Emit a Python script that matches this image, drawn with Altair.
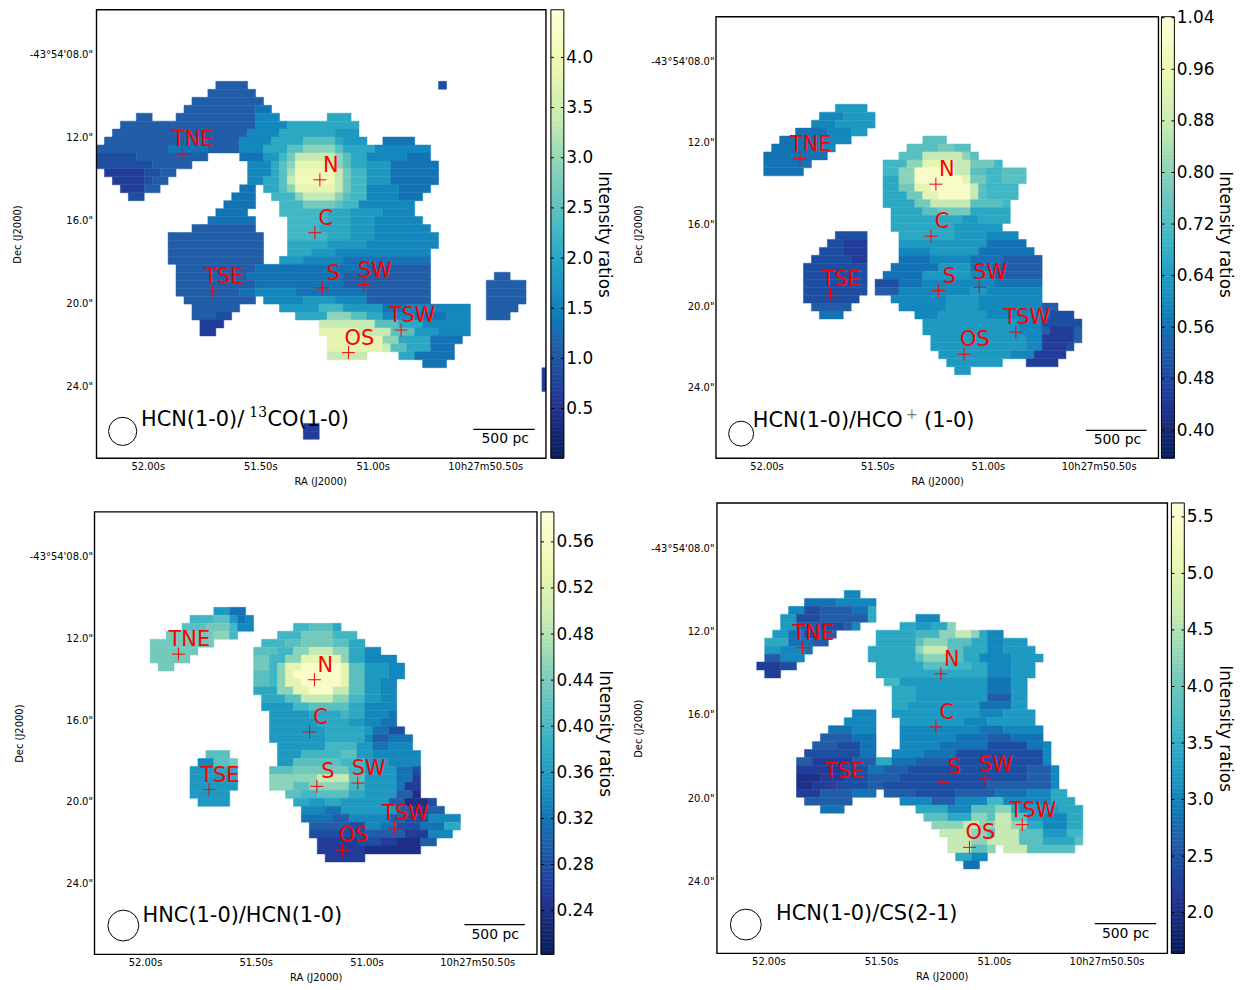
import altair as alt
import pandas as pd

RA_DOMAIN = [52.228, 50.23]
DEC_DOMAIN = [5.83, 27.45]
YLGNBU_R = ["#081d58", "#253494", "#225ea8", "#1d91c0", "#41b6c4", "#7fcdbb", "#c7e9b4", "#edf8b1", "#ffffd9"]

REGIONS = ["TNE", "N", "C", "S", "SW", "TSE", "TSW", "OS"]
REGION_RA = [51.849, 51.235, 51.257, 51.224, 51.039, 51.711, 50.874, 51.108]
REGION_DEC = [12.78, 14.03, 16.58, 19.24, 19.08, 19.40, 21.27, 22.36]

X_TICKS = [52.0, 51.5, 51.0, 50.5]
Y_TICKS = [8, 12, 16, 20, 24]

# Each row: "start level:end level:end ...; start level:end ..."  (map cells)
MAP_1 = {
 9: "15 2:18; 43 1.5:43", 10: "14 2:19", 11: "12 2:20", 12: "11 2:19 2.5:21",
 13: "5 2:6; 10 2:19 3:22; 29 4:31", 14: "3 2:19 3:23 4:32", 15: "2 2:18 3:22 4:29 3.5:32",
 16: "1 2:10 2.5:13 2:17 3:21 4:25 5:29 4:30 3.5:33; 36 2.5:39",
 17: "0 2:8 2.5:13 2:17 3:20 4:23 5:25 6:29 5:30 4:34; 35 3:41",
 18: "0 1.5:4 2:13; 18 2.5:20 3.5:22 4.5:23 5.5:24 7:29 6:30 5:31 4:33 3:38 2.5:41",
 19: "0 1.5:6 2:11; 19 3:21 4:22 5:23 6:24 8:28 7:29 6:30 5:31 4:33 3.5:36 2.5:42",
 20: "1 1:5 1.5:7 2:9; 19 3:21 4:22 5:23 6.5:24 8.5:29 7:30 5.5:31 4.5:33 3.5:36 2.5:42",
 21: "2 1:5 1.5:6 2:8; 19 3:20 4:22 5:23 7:24 8.5:29 7:30 5.5:31 4.5:33 3.5:36 2.5:42",
 22: "3 1:5 2:7; 18 2.5:19; 21 4:22 5:23 6:24 8:29 7:30 5.5:31 4.5:33 3:37 2.5:41",
 23: "4 1.5:5; 17 2.5:19; 22 4.5:24 6:25 7:29 6:30 5:31 4.5:33 3:37 2.5:40",
 24: "16 2.5:19; 23 4.5:25 5.5:29 5:30 4.5:32 3:39",
 25: "15 2.5:18; 23 4.5:28 4:31 3.5:35 3:39",
 26: "14 2.5:19; 24 4.5:28 4:31 3.5:34 3:40",
 27: "12 2:19; 24 4.5:27 4:31 3.5:34 3:41",
 28: "9 2:20; 24 4.5:28 4:31 3.5:34 3:42",
 29: "9 2:20; 24 4:28 3.5:33 3:42",
 30: "9 2:20; 24 4:26 3.5:29 3:41",
 31: "9 2:20; 23 3.5:25 3:30 2.5:41",
 32: "10 2:19 2.5:33 2:41",
 33: "10 2:18 2.5:30 2:41; 50 2:51",
 34: "10 2:19 2.5:30 2:41; 49 2:53",
 35: "10 2:17 2.5:19 3:24 2.5:33 2:41; 49 2:53",
 36: "11 2:19; 21 3:25 3.5:29 3:33 2:41; 49 2:53",
 37: "12 2:17; 23 3.5:27 4.5:30 3.5:35 2.5:38 3:46; 49 2:52",
 38: "12 2:14 1.5:16; 25 4:28 6:31 5:33 4:35 3:39 2.5:43 3:46; 49 2:51",
 39: "13 1:15; 28 7:34 5:37 4:40 3:46",
 40: "13 1:14; 28 8:32 7:36 5:39 3.5:42 3:46",
 41: "29 8:35 6:37 4:41 2.5:45",
 42: "29 8:35 7:36 5:38 4:41 2.5:44",
 43: "29 7:33; 38 4:39 2.5:44",
 44: "41 2.5:43", 45: "56 1:56", 46: "56 1:56", 47: "56 1:56",
 52: "26 1:27", 53: "26 1:27",
}
MAP_2 = {
 11: "15 3.5:18", 12: "13 3:15 3.5:19", 13: "12 3:14 3.5:19", 14: "10 2.5:13 3:16 3.5:18",
 15: "8 2.5:12 3:16; 26 5:28", 16: "7 2.5:12 3:14; 24 5:27 5.5:29 5:31",
 17: "6 2.5:13; 23 5:25 7:30 6:31 5:32",
 18: "6 2.5:11; 21 4.5:23 6:25 8:29 7:31 5.5:34 4.5:35",
 19: "6 2.5:10; 21 4.5:22 6:24 9:29 7:31 5:33 4.5:35 5:38",
 20: "21 4:22 6:24 9:30 8:31 5.5:33 4.5:35 5:38",
 21: "21 4:22 5.5:24 8:26 9:31 7:32 5:33 4.5:37",
 22: "21 4:23 5.5:25 8:27 9:31 7:32 5:33 4.5:37",
 23: "21 4:24 5.5:26 7:31 5:35 4.5:36",
 24: "22 4:25 5:27 5.5:31 4:36",
 25: "22 4:30 3.5:32 4:36",
 26: "22 4:29 3.5:35",
 27: "15 1.5:18; 23 4:29 3.5:33 3:37",
 28: "14 1.5:15 1:18; 23 3.5:33 2.5:38",
 29: "13 1.5:15 1:18; 23 3:26 3.5:32 2.5:39",
 30: "12 1.5:16 1:18; 23 2.5:26 3:31 2.5:35 2:40",
 31: "11 1.5:18; 22 2.5:27 3.5:31 2.5:34 2:40",
 32: "11 1.5:18; 21 2.5:25 3.5:31 3:34 2:40",
 33: "11 1.5:18; 20 1.5:22 2.5:25 3:34 2.5:40",
 34: "11 1.5:18; 20 2:22 3:31 3.5:33 3:40",
 35: "11 1.5:17; 22 3:28 3.5:32 3:40",
 36: "12 2:16; 23 3:28 3.5:32 3:40 2:42",
 37: "13 2.5:15; 25 3:27 3.5:33 3:40 2.5:41 1.5:44",
 38: "26 3.5:37 3:40 1.5:45",
 39: "26 3.5:37 3:40 2:41 1:44 2:45",
 40: "27 3.5:38 3:40 1:44 2:45",
 41: "27 3.5:38 3:40 1:43 1.5:44",
 42: "28 3.5:36 3:39 1:43",
 43: "29 3.5:35; 39 1:42",
 44: "30 3.5:31",
}
MAP_3 = {
 12: "15 3.5:16 2.5:18", 13: "12 4.5:14 5:16 3.5:17 2.5:18 3:19",
 14: "11 5:13 5.5:16 4.5:17 3:19; 25 4.5:26 5:29 4:30",
 15: "9 5.5:14 6:16 4.5:17; 23 4.5:25 5.5:29 4.5:32",
 16: "7 5.5:14; 21 4.5:23 5:25 5.5:29 5:31 4:33",
 17: "7 5.5:12; 20 5:22 4.5:24 6:26 7:29 6:31 4:33 3:35",
 18: "7 5.5:11; 20 5.5:21 4.5:23 6:25 8:30 6:31 4:33 3:37",
 19: "8 5.5:9; 20 5.5:21 4.5:22 6:23 8:25 9:30 8:31 5:33 3.5:36 3:38",
 20: "20 5:21 4.5:22 6:23 8:24 9:30 8:31 5:33 3.5:36 3:38",
 21: "20 5:21 4.5:22 6:23 8:25 9:30 8:31 5:33 3.5:35 3:37",
 22: "20 4:22 6:24 8:26 9:29 7:31 5:33 3.5:35 3:37",
 23: "21 4:23 5:25 7:29 6:31 4.5:33 3.5:35 3:37",
 24: "21 3.5:24 4.5:26 5:31 4:33 3:37",
 25: "22 3.5:26 4:30 4.5:31 4:33 3:36 2.5:37",
 26: "22 3.5:27 4:31 3.5:33 3:35 2.5:37",
 27: "22 3.5:28 4:33 3.5:34 2.5:36 1.5:38",
 28: "22 3.5:28 4:33 3:34 2:36 2.5:39",
 29: "23 3.5:28 4.5:32 3.5:34 2.5:36 3:39",
 30: "14 5:16; 23 3.5:25 4.5:30 5:32 3.5:34 3:40",
 31: "13 3:14 5:16 5.5:17; 23 3.5:24 5:30 4.5:33 3.5:36 3:40",
 32: "12 3.5:14 4:17; 22 5:24 5.5:31 4.5:33 3.5:37 2.5:39 1.5:40",
 33: "12 3.5:16 4:17; 22 6:27 7:31 5:33 3.5:37 2.5:39 1:40",
 34: "12 3.5:17; 22 6:24 5:26 6:31 4.5:33 3.5:37 2.5:38 1:40",
 35: "12 3.5:16; 24 5:25 4.5:27 5:31 4:33 3.5:37 2:39 0.5:40",
 36: "13 3.5:16; 25 4:26 3.5:28 4:30 3.5:36 2:38 0.5:41 1.5:42",
 37: "26 3:28 2.5:30 3.5:37 2:39 1:41 2:43",
 38: "26 2.5:29 2:31 3:36 2:38 1.5:41 3:45",
 39: "27 2:31 1.5:33 3:35 2.5:37 1.5:40 2.5:43 4:45",
 40: "27 1.5:33 2:38 1:41 3:44",
 41: "28 1:32 1.5:35 1:37 0.5:40 2:42",
 42: "28 1:33 0.5:40",
 43: "29 1:33",
}
MAP_4 = {
 11: "16 3:17", 12: "11 2.5:14 3:19", 13: "9 3:10 1.5:12 2:16 2.5:18 4:19",
 14: "8 3.5:9 1.5:12 2:18 4:19; 25 3:27",
 15: "8 3.5:9 2:12 1.5:15 2:16 3:17; 23 4:24 3.5:26 4:28 6:29",
 16: "7 3.5:8 2.5:10 1.5:12 2:14; 20 4:24 4.5:27 6:29 7:31 6:32 4:33 3:35",
 17: "6 4:8 2.5:11 2:13; 20 4:24 5:25 6:28 5:31 4:33 3:35 3.5:38",
 18: "6 3.5:7 3:10 2.5:11; 19 4:24 6:25 7:28 5:30 4:33 3:35 3.5:39",
 19: "6 2:7 3:10; 19 4:24 5:25 6:28 5:30 4:32 3:36 3.5:40",
 20: "5 1:7 1.5:9; 20 4:25 5:28 4.5:31 4:33 3:36 3.5:39",
 21: "6 1:7; 20 4:33 3:36 3.5:39",
 22: "21 4.5:22 3.5:33 2.5:36 3.5:38",
 23: "22 4:24 3.5:33 2.5:36 3.5:38",
 24: "22 4:24 3.5:33 2:36 3.5:38",
 25: "22 4:23 3.5:32 2.5:36 3.5:38",
 26: "17 3:19; 22 3.5:32 3:35 3.5:39",
 27: "16 3:19; 23 3.5:30 3:33 3.5:39",
 28: "14 2.5:16 3:19; 23 3:32 2.5:35 3:40",
 29: "13 2:16 2.5:19; 23 3:29 2.5:33 2:36 2.5:40",
 30: "12 2:14 1.5:17 2.5:19; 23 3:27 2.5:33 1.5:38 2.5:40 3:41",
 31: "11 1.5:17 2.5:19; 22 3:25 2.5:29 1.5:40 3:41",
 32: "10 2:11 1:16 2:19; 20 4:21 2.5:24 2:29 1.5:40 3:41",
 33: "10 1:15 1.5:18 2.5:20 2:23 1.5:38 2:41 3:42",
 34: "10 0.5:12 1:15 1.5:18 2:22 1.5:38 2:41 3:42",
 35: "10 0.5:11 1:14 1.5:18 2:20 1.5:33 2:41 3:42",
 36: "10 1:12 2:16 2.5:19; 21 2:24 1.5:29 2:34 2.5:38 3:41 4:43",
 37: "11 2:16; 23 3:26 2:29 3:33 4.5:35 3:41 4:44",
 38: "13 2.5:15; 25 4:28 3:31 5:34 6:36 4:37 3:38 3.5:42 4:45",
 39: "26 5:28 4:31 6:33 5:34 7:36 5:38 3.5:40 3:43 4:45",
 40: "27 6:30 7:32 6:34 7:36 6:38 4:40 3:43 4:45",
 41: "28 7:31 6:33 5:34 7:37 5:40 3.5:43 4.5:45",
 42: "29 7:31 6:33 7:37 5:40 4:44 5:45",
 43: "29 7:31 5:33 6:34; 36 7:38 5:44",
 44: "30 4:31 3:33",
 45: "31 2.5:32",
}

TICKS_1 = [0.5, 1.0, 1.5, 2.0, 2.5, 3.0, 3.5, 4.0]
TICKS_2 = [0.40, 0.48, 0.56, 0.64, 0.72, 0.80, 0.88, 0.96, 1.04]
TICKS_3 = [0.24, 0.28, 0.32, 0.36, 0.40, 0.44, 0.48, 0.52, 0.56]
TICKS_4 = [2.0, 2.5, 3.0, 3.5, 4.0, 4.5, 5.0, 5.5]

FONT = "DejaVu Sans"
SERIF = "DejaVu Serif"
CELL = 8


def cells(rows, w, h, vmin, vmax):
    out = []
    dx = (RA_DOMAIN[1] - RA_DOMAIN[0]) / w * CELL
    dy = (DEC_DOMAIN[1] - DEC_DOMAIN[0]) / h * CELL
    for j, txt in rows.items():
        for span in txt.split(";"):
            toks = span.split()
            start = int(toks[0])
            for tok in toks[1:]:
                lv, end = tok.split(":")
                end = int(end)
                out.append({
                    "x0": RA_DOMAIN[0] + start * dx, "x1": RA_DOMAIN[0] + (end + 1) * dx,
                    "y0": DEC_DOMAIN[0] + j * dy, "y1": DEC_DOMAIN[0] + (j + 1) * dy,
                    "v": vmin + (float(lv) + 0.5) / 10 * (vmax - vmin),
                })
                start = end + 1
    return pd.DataFrame(out)


ONE = pd.DataFrame({"a": [1]})


def panel(rows, w, h, vmin, vmax, label_pad, title_pad, beam, bar, texts, lp=0, tp=0):
    ra_px = (RA_DOMAIN[1] - RA_DOMAIN[0]) / w
    dec_px = (DEC_DOMAIN[1] - DEC_DOMAIN[0]) / h
    xs = alt.Scale(domain=[RA_DOMAIN[0] - lp * ra_px, RA_DOMAIN[1]], nice=False, zero=False)
    ys = alt.Scale(domain=[DEC_DOMAIN[1], DEC_DOMAIN[0] - tp * dec_px], nice=False, zero=False)
    color = alt.Scale(domain=[vmin, vmax], range=YLGNBU_R)
    df = cells(rows, w, h, vmin, vmax)
    base = alt.Chart(df).mark_rect(clip=True, strokeWidth=0.5).encode(
        x=alt.X("x0:Q", scale=xs, axis=alt.Axis(
            values=X_TICKS, title="RA (J2000)", grid=False, tickSize=0, domain=False, labelFontSize=10,
            titleFontSize=10, titleFontWeight="normal", labelPadding=3, titlePadding=5, labelOverlap=False,
            labelExpr="datum.value==50.5 ? '10h27m50.50s' : format(datum.value,'.2f')+'s'")),
        x2="x1:Q",
        y=alt.Y("y0:Q", scale=ys, axis=alt.Axis(
            values=Y_TICKS, title="Dec (J2000)", grid=False, tickSize=0, domain=False, labelFontSize=10,
            titleFontSize=10, titleFontWeight="normal", labelPadding=label_pad, titlePadding=title_pad, labelOverlap=False,
            labelExpr="datum.value==8 ? '-43°54\\'08.0\"' : format(datum.value,'.1f')+'\"'")),
        y2="y1:Q",
        color=alt.Color("v:Q", scale=color, legend=None),
        stroke=alt.Stroke("v:Q", scale=color, legend=None),
    )
    regs = pd.DataFrame({"ra": REGION_RA, "dec": REGION_DEC, "name": REGIONS})
    cross = alt.Chart(regs).mark_point(shape="M-1,0L1,0M0,-1L0,1", filled=False, stroke="#ff0000", strokeWidth=1, size=170, opacity=1).encode(
        x=alt.X("ra:Q", scale=xs), y=alt.Y("dec:Q", scale=ys))
    lab = alt.Chart(regs).mark_text(font=FONT, fontSize=21, color="#ff0000", dx=11, dy=-14).encode(
        x=alt.X("ra:Q", scale=xs), y=alt.Y("dec:Q", scale=ys), text="name:N")
    bx, by, bd = beam
    beam_mark = alt.Chart(ONE).mark_point(shape="circle", filled=False, stroke="black", strokeWidth=1, size=3.1416 * (bd / 2) ** 2, opacity=1).encode(
        x=alt.value(bx + lp), y=alt.value(by + tp))
    sx0, sx1, sy, tx, ty = bar
    rule = alt.Chart(ONE).mark_rule(color="black", strokeWidth=1.3).encode(
        x=alt.value(sx0 + lp), x2=alt.value(sx1 + lp), y=alt.value(sy + tp))
    pc = alt.Chart(ONE).mark_text(font=FONT, fontSize=14, color="black", text="500 pc").encode(
        x=alt.value(tx + lp), y=alt.value(ty + tp))
    frame = alt.Chart(ONE).mark_rect(fillOpacity=0, stroke="black", strokeWidth=1.4).encode(
        x=alt.value(lp), x2=alt.value(lp + w), y=alt.value(tp), y2=alt.value(tp + h))
    layers = [base, cross, lab, beam_mark, rule, pc, frame]
    for t in texts:
        layers.append(alt.Chart(ONE).mark_text(
            font=t.get("font", FONT), fontSize=t.get("size", 21), color=t.get("color", "black"),
            align="left", baseline="middle", text=t["t"]).encode(x=alt.value(t["x"] + lp), y=alt.value(t["y"] + tp)))
    return alt.layer(*layers).properties(width=w + lp, height=h + tp)


def colorbar(ticks, fmt, h, vmin, vmax, width=13, tp=0):
    n = 112
    step = (vmax - vmin) / n
    bar = pd.DataFrame({"a": [vmin + i * step for i in range(n)], "b": [vmin + (i + 1) * step for i in range(n)]})
    bar["c"] = (bar.a + bar.b) / 2
    color = alt.Scale(domain=[vmin, vmax], range=YLGNBU_R)
    ys = alt.Scale(domain=[vmin, vmax + tp * (vmax - vmin) / h], nice=False, zero=False)
    rect = alt.Chart(bar).mark_rect(strokeWidth=0.5).encode(
        x=alt.value(0), x2=alt.value(width),
        y=alt.Y("a:Q", scale=ys, axis=alt.Axis(
            orient="right", values=ticks, format=fmt, title="Intensity ratios", grid=False, domain=False, tickSize=0,
            labelFontSize=17, titleFontSize=17, titleFontWeight="normal", labelPadding=2, titlePadding=2,
            labelOverlap=False)),
        y2="b:Q",
        color=alt.Color("c:Q", scale=color, legend=None),
        stroke=alt.Stroke("c:Q", scale=color, legend=None),
    )
    tk = pd.DataFrame({"t": ticks})
    t1 = alt.Chart(tk).mark_rule(color="black", strokeWidth=1).encode(
        x=alt.value(0), x2=alt.value(3), y=alt.Y("t:Q", scale=ys))
    t2 = alt.Chart(tk).mark_rule(color="black", strokeWidth=1).encode(
        x=alt.value(width - 3), x2=alt.value(width), y=alt.Y("t:Q", scale=ys))
    frame = alt.Chart(ONE).mark_rect(fillOpacity=0, stroke="black", strokeWidth=1).encode(
        x=alt.value(0), x2=alt.value(width), y=alt.value(tp), y2=alt.value(tp + h))
    return alt.layer(rect, t1, t2, frame).properties(width=width, height=h + tp)


p1 = panel(MAP_1, 452, 451, 0.005, 4.475, 2, 7, (26.3, 424, 32), (379, 440.7, 422, 411, 432), [
    {"t": "HCN(1-0)/", "x": 44.7, "y": 412.7},
    {"t": "13", "x": 153.7, "y": 406, "size": 14, "font": SERIF},
    {"t": "CO(1-0)", "x": 172, "y": 412.7},
], lp=2)
p2 = panel(MAP_2, 445, 444, 0.357, 1.0415, 2, 7, (25.3, 419.3, 28.3), (372, 433, 416, 403.7, 426), [
    {"t": "HCN(1-0)/HCO", "x": 37, "y": 406.7},
    {"t": "+", "x": 191, "y": 401, "size": 14, "font": SERIF, "color": "#777777"},
    {"t": "(1-0)", "x": 209.3, "y": 406.7},
], tp=7)
p3 = panel(MAP_3, 445, 445, 0.202, 0.586, 2, 5, (29, 416, 35), (372, 432.7, 415, 403, 426), [
    {"t": "HNC(1-0)/HCN(1-0)", "x": 48.3, "y": 406.3},
])
p4 = panel(MAP_4, 453, 453, 1.64, 5.623, 2, 7, (29, 424, 35), (380, 441.7, 423, 411, 434), [
    {"t": "HCN(1-0)/CS(2-1)", "x": 59.3, "y": 413.7},
], lp=1)
b1 = colorbar(TICKS_1, ".1f", 451, 0.005, 4.475)
b2 = colorbar(TICKS_2, ".2f", 444, 0.357, 1.0415, tp=7)
b3 = colorbar(TICKS_3, ".2f", 445, 0.202, 0.586)
b4 = colorbar(TICKS_4, ".1f", 453, 1.64, 5.623)


def ind(c):
    return c.resolve_scale(color="independent", stroke="independent")


left = ind(alt.vconcat(ind(alt.hconcat(p1, b1, spacing=3)), ind(alt.hconcat(p3, b3, spacing=2)), spacing=25))
right = ind(alt.vconcat(ind(alt.hconcat(p2, b2, spacing=1)), ind(alt.hconcat(p4, b4, spacing=2)), spacing=16))
chart = ind(alt.hconcat(left, right, spacing=20)).properties(
    background="white", padding={"left": 4, "top": -3, "right": 5, "bottom": 0}
).configure_view(stroke=None).configure_axis(
    labelFont=FONT, titleFont=FONT, labelColor="black", titleColor="black")
chart.save("out.html", embed_options={"renderer": "svg", "actions": False})
